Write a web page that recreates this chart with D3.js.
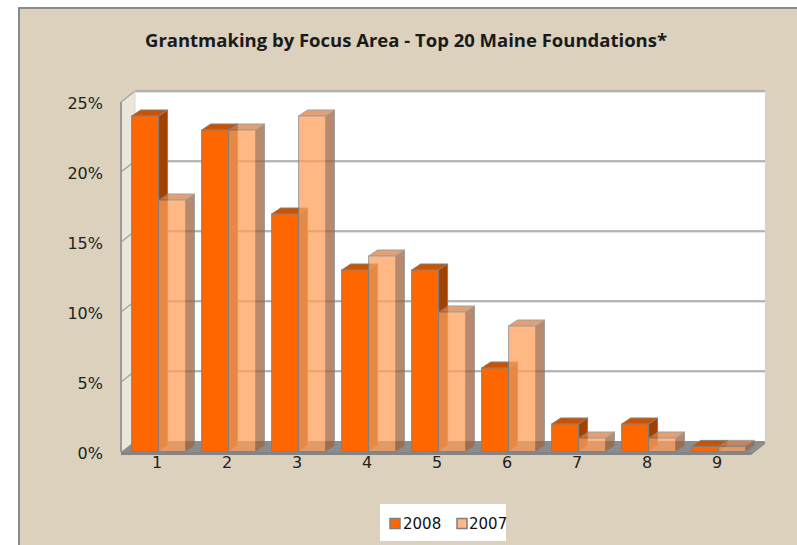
<!DOCTYPE html>
<html>
<head>
<meta charset="utf-8">
<script src="https://cdn.jsdelivr.net/npm/d3@7"></script>
<style>
  html, body { margin: 0; padding: 0; background: #ffffff; }
  svg { display: block; }
</style>
</head>
<body>
<svg id="chart" width="797" height="545"></svg>
<script>
// ---- data ----
const categories = ["1", "2", "3", "4", "5", "6", "7", "8", "9"];
const seriesNames = ["2008", "2007"];
const values2008 = [24, 23, 17, 13, 13, 6, 2, 2, 0.4];
const values2007 = [18, 23, 24, 14, 10, 9, 1, 1, 0.4];
const yTicks = [0, 5, 10, 15, 20, 25];
const titleText = "Grantmaking by Focus Area - Top 20 Maine Foundations*";

const seriesValues = { "2008": values2008, "2007": values2007 };

// ---- layout ----
const W = 797, H = 545;
const svg = d3.select("#chart");

const front = { left: 121, right: 751, bottom: 452, top: 102 };
const depth = { dx: 14, dy: -11 };     // wall depth
const barDepth = { dx: 9, dy: -6 };    // bar depth

const x = d3.scaleBand().domain(categories).range([front.left, front.right]).padding(0);
const xs = d3.scaleBand().domain(seriesNames).range([10.7, 64.5]).padding(0);
const y = d3.scaleLinear().domain([0, 25]).range([front.bottom, front.top]);

const style = {
  "2008": { front: "#ff6600", top: "#cc5200", side: "#a34100", opacity: 1 },
  "2007": { front: "#ffa05c", top: "#dc8144", side: "#a1643d", opacity: 0.75 }
};

// ---- background frame ----
svg.append("rect").attr("x", 19).attr("y", 8).attr("width", W - 19).attr("height", H - 8)
  .attr("fill", "#dbd1bd");
svg.append("path").attr("d", `M19,${H} L19,8 L${W},8`)
  .attr("fill", "none").attr("stroke", "#8a8a8a").attr("stroke-width", 2);

// ---- title ----
svg.append("text")
  .attr("x", 406).attr("y", 47)
  .attr("text-anchor", "middle")
  .attr("font-family", "'Open Sans', 'Liberation Sans', sans-serif")
  .attr("font-weight", "bold")
  .attr("font-size", 18)
  .attr("fill", "#1a1a1a")
  .attr("textLength", 522)
  .attr("lengthAdjust", "spacingAndGlyphs")
  .text(titleText);

// ---- back wall ----
const bx0 = front.left + depth.dx, bx1 = front.right + depth.dx;
svg.append("rect")
  .attr("x", bx0).attr("y", y(25) + depth.dy)
  .attr("width", bx1 - bx0).attr("height", y(0) - y(25))
  .attr("fill", "#ffffff");

// side wall
svg.append("path")
  .attr("d", `M${front.left},${y(0)} L${front.left},${y(25)} L${bx0},${y(25) + depth.dy} L${bx0},${y(0) + depth.dy} Z`)
  .attr("fill", "#ebe5da").attr("stroke", "none");

// gridlines (back wall + side wall)
const grid = svg.append("g");
yTicks.filter(v => v > 0).forEach(v => {
  grid.append("line")
    .attr("x1", bx0).attr("x2", bx1)
    .attr("y1", y(v) + depth.dy + 1).attr("y2", y(v) + depth.dy + 1)
    .attr("stroke", "#e4e4e4").attr("stroke-width", 2);
  grid.append("line")
    .attr("x1", bx0).attr("x2", bx1)
    .attr("y1", y(v) + depth.dy).attr("y2", y(v) + depth.dy)
    .attr("stroke", "#a3a3a3").attr("stroke-width", 1.6);
  grid.append("line")
    .attr("x1", front.left).attr("x2", bx0)
    .attr("y1", y(v)).attr("y2", y(v) + depth.dy)
    .attr("stroke", "#a3a3a3").attr("stroke-width", 1.4);
});
// side wall left edge
svg.append("line").attr("x1", front.left).attr("x2", front.left)
  .attr("y1", y(25)).attr("y2", y(0))
  .attr("stroke", "#9a9a9a").attr("stroke-width", 2);
svg.append("line").attr("x1", bx0).attr("x2", bx0)
  .attr("y1", y(25) + depth.dy).attr("y2", y(0) + depth.dy)
  .attr("stroke", "#d8d8d8").attr("stroke-width", 1);

// ---- floor ----
svg.append("path")
  .attr("d", `M${front.left},${y(0)} L${front.right},${y(0)} L${bx1},${y(0) + depth.dy} L${bx0},${y(0) + depth.dy} Z`)
  .attr("fill", "#8c8c8c");
svg.append("path")
  .attr("d", `M${front.left},${y(0)} L${front.right},${y(0)} L${front.right},${y(0) + 3} L${front.left},${y(0) + 3} Z`)
  .attr("fill", "#858585");
svg.append("path")
  .attr("d", `M${front.right},${y(0)} L${bx1},${y(0) + depth.dy} L${bx1},${y(0) + depth.dy + 3} L${front.right},${y(0) + 3} Z`)
  .attr("fill", "#8a8a8a");

// ---- bars ----
const bars = svg.append("g");
categories.forEach((c, i) => {
  seriesNames.forEach(s => {
    const v = seriesValues[s][i];
    const st = style[s];
    const x0 = x(c) + xs(s), w = xs.bandwidth();
    const yt = y(v), yb = y(0) - 0.5;
    const g = bars.append("g").attr("opacity", st.opacity);
    const dx = barDepth.dx, dy = barDepth.dy;
    // side
    g.append("path")
      .attr("d", `M${x0 + w},${yb} L${x0 + w},${yt} L${x0 + w + dx},${yt + dy} L${x0 + w + dx},${yb + dy} Z`)
      .attr("fill", st.side).attr("stroke", "#7f7f7f").attr("stroke-width", 1).attr("stroke-linejoin", "round");
    // top
    g.append("path")
      .attr("d", `M${x0},${yt} L${x0 + w},${yt} L${x0 + w + dx},${yt + dy} L${x0 + dx},${yt + dy} Z`)
      .attr("fill", st.top).attr("stroke", "#7f7f7f").attr("stroke-width", 1).attr("stroke-linejoin", "round");
    // front
    g.append("rect")
      .attr("x", x0).attr("y", yt).attr("width", w).attr("height", yb - yt)
      .attr("fill", st.front).attr("stroke", "#7f7f7f").attr("stroke-width", 1);
  });
});

// ---- axes labels ----
const tickFont = "'DejaVu Sans', Verdana, sans-serif";
svg.append("g").selectAll("text").data(yTicks).join("text")
  .attr("x", 103).attr("y", d => y(d) + 2)
  .attr("text-anchor", "end").attr("dominant-baseline", "middle")
  .attr("font-family", tickFont).attr("font-size", 16).attr("fill", "#222")
  .text(d => d + "%");

svg.append("g").selectAll("text").data(categories).join("text")
  .attr("x", d => x(d) + x.bandwidth() / 2 + 1).attr("y", 468)
  .attr("text-anchor", "middle")
  .attr("font-family", tickFont).attr("font-size", 16).attr("fill", "#222")
  .text(d => d);

// ---- legend ----
const legend = svg.append("g");
legend.append("rect").attr("x", 380).attr("y", 504).attr("width", 126).attr("height", 37).attr("fill", "#ffffff");
const legendItems = [
  { name: "2008", sx: 390, tx: 403 },
  { name: "2007", sx: 457, tx: 469 }
];
legendItems.forEach(it => {
  legend.append("rect").attr("x", it.sx).attr("y", 518.5).attr("width", 10).attr("height", 10)
    .attr("fill", style[it.name].front).attr("fill-opacity", it.name === "2007" ? 0.75 : 1)
    .attr("stroke", "#7f7f7f").attr("stroke-width", 1.5);
  legend.append("text").attr("x", it.tx).attr("y", 528.5)
    .attr("font-family", tickFont).attr("font-size", 15).attr("fill", "#111")
    .text(it.name);
});
</script>
</body>
</html>
